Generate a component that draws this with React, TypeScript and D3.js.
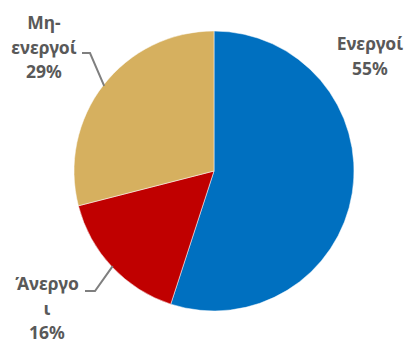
import React from "react";
import * as d3 from "d3";

const categories = ["Ενεργοί", "Άνεργοι", "Μη-ενεργοί"];
const values = [55, 16, 29];
const colors = ["#0070C0", "#C00000", "#D6B05F"];
const labelLines = [["Ενεργοί", "55%"], ["Άνεργο", "ι", "16%"], ["Μη-", "ενεργοί", "29%"]];

const W = 412, H = 343;
const cx = 214, cy = 171, R = 140;

export default function App() {
  const pie = d3.pie<number>().sort(null).value((d) => d);
  const arcs = pie(values);
  const arc = d3.arc<d3.PieArcDatum<number>>().innerRadius(0).outerRadius(R);
  const labelPos = [
    { x: 370, y: 50 },
    { x: 47, y: 290 },
    { x: 44, y: 29 },
  ];
  const lh = 24.5;
  const pt = (ang: number, r: number): [number, number] => [cx + r * Math.sin(ang), cy - r * Math.cos(ang)];
  const lineGen = d3.line();
  const red = arcs[1];
  const tan = arcs[2];
  const redAnchor = pt((red.startAngle + red.endAngle) / 2, R - 1);
  const tanAnchor = pt((tan.startAngle + tan.endAngle) / 2, R - 1);
  return (
    <svg width={W} height={H} style={{ position: "absolute", left: 0, top: 0 }}>
      <g>
        {arcs.map((a, i) => (
          <path key={categories[i]} d={arc(a) || ""} transform={`translate(${cx},${cy})`} fill={colors[i]} stroke="#ffffff" strokeWidth={0.5} />
        ))}
      </g>
      <path d={lineGen([[85, 291], [95, 291], redAnchor]) || ""} fill="none" stroke="#7F7F7F" strokeWidth={2} />
      <path d={lineGen([[82, 53], [90, 53], tanAnchor]) || ""} fill="none" stroke="#7F7F7F" strokeWidth={2} />
      {labelLines.map((lines, i) => (
        <text key={i} textAnchor="middle" fontFamily="'Noto Sans', sans-serif" fontWeight={700} fontSize={17.5} fill="#595959">
          {lines.map((t, j) => (
            <tspan key={j} x={labelPos[i].x} y={labelPos[i].y + j * lh}>{t}</tspan>
          ))}
        </text>
      ))}
    </svg>
  );
}
